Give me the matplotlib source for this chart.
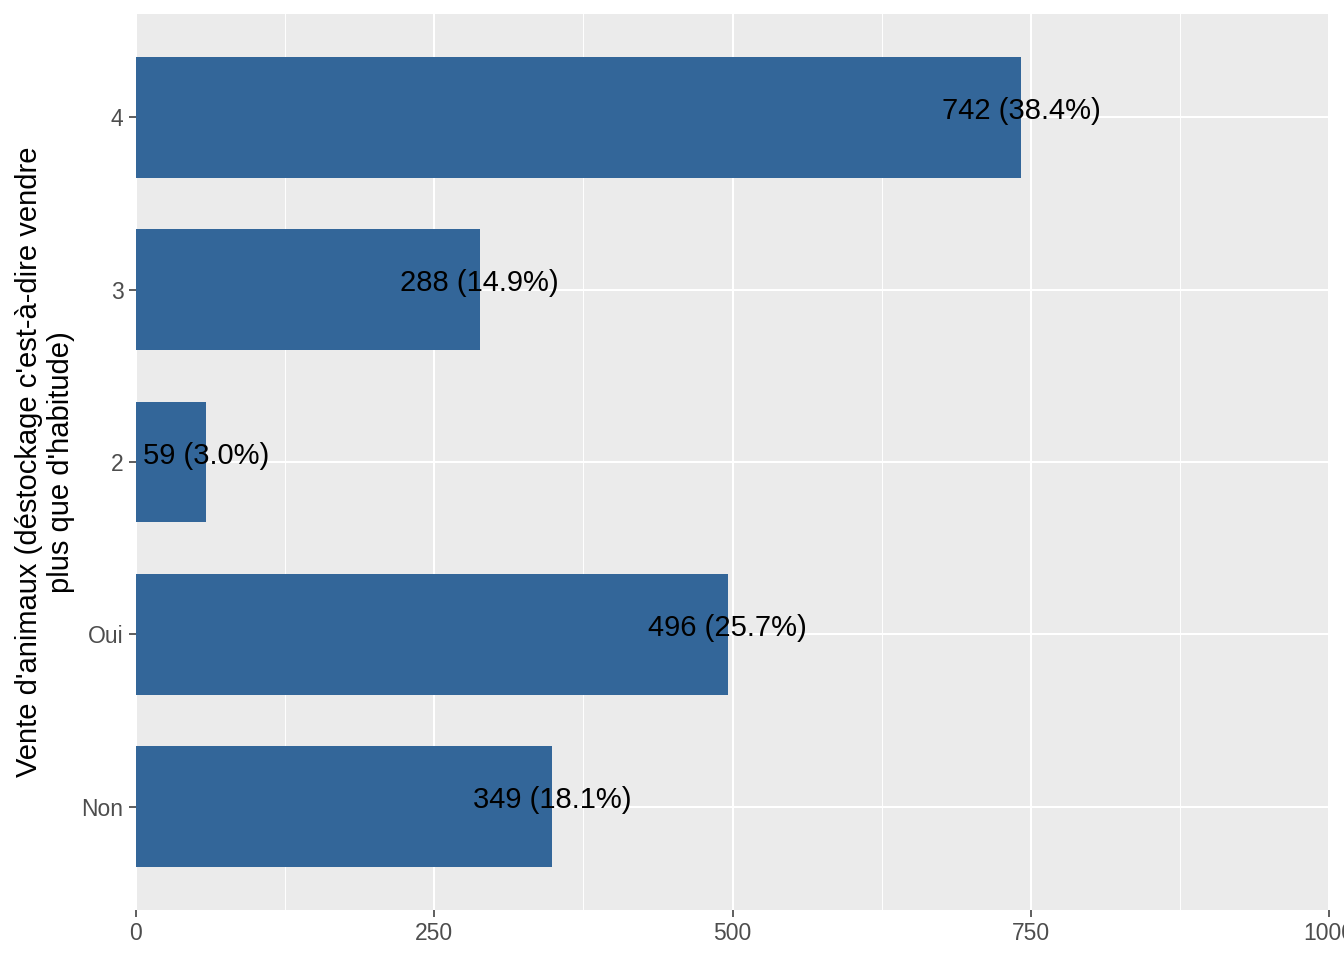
import matplotlib.pyplot as plt
import matplotlib.ticker as ticker

categories = ["Non", "Oui", "2", "3", "4"]
counts = [349, 496, 59, 288, 742]
labels = ["349 (18.1%)", "496 (25.7%)", "59 (3.0%)", "288 (14.9%)", "742 (38.4%)"]
ylabel = "Vente d'animaux (déstockage c'est-à-dire vendre\nplus que d'habitude)"

plt.rcParams['font.family'] = ['Liberation Sans', 'DejaVu Sans']

fig = plt.figure(figsize=(13.44, 9.6), dpi=100)
ax = fig.add_axes([136 / 1344, 1 - 910 / 960, (1329 - 136) / 1344, (910 - 14) / 960])

ax.set_facecolor('#EBEBEB')
pos = list(range(len(categories)))
ax.barh(pos, counts, height=0.7, color='#336699', zorder=2)
for y, v, lab in zip(pos, counts, labels):
    ax.annotate(lab, (v, y), xytext=(0, 4.5), textcoords='offset points',
                ha='center', va='center', fontsize=21, color='black', zorder=3)

ax.set_xlim(0, 1000)
ax.set_ylim(-0.6, 4.6)
ax.set_yticks(pos)
ax.set_yticklabels(categories)
ax.xaxis.set_major_locator(ticker.MultipleLocator(250))
ax.xaxis.set_minor_locator(ticker.MultipleLocator(125))
ax.grid(True, which='major', color='white', linewidth=1.5, zorder=0)
ax.grid(True, which='minor', axis='x', color='white', linewidth=0.7, zorder=0)
ax.set_axisbelow(True)
for s in ax.spines.values():
    s.set_visible(False)
ax.tick_params(axis='both', which='major', length=5, width=1.1, color='#333333',
               labelcolor='#4D4D4D', labelsize=16.5, pad=4)
ax.tick_params(axis='both', which='minor', length=0)
ax.set_ylabel(ylabel, fontsize=21, color='black', labelpad=5, linespacing=1.15)

fig.savefig('out.png', dpi=100)
